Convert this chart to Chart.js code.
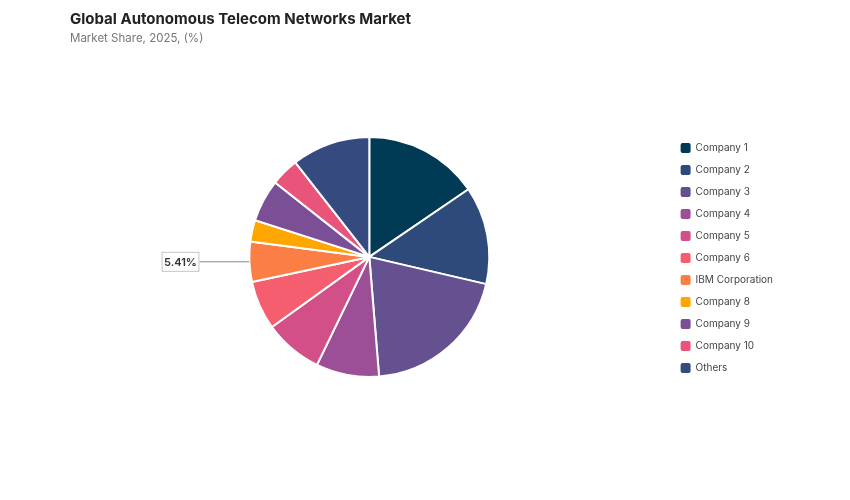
<!DOCTYPE html>
<html>
<head>
<meta charset="utf-8">
<script src="https://cdn.jsdelivr.net/npm/chart.js@4.4.0/dist/chart.umd.min.js"></script>
<style>
  html, body { margin: 0; padding: 0; background: #ffffff; }
  #wrap { width: 850px; height: 500px; position: relative; }
</style>
</head>
<body>
<div id="wrap"><canvas id="c" width="850" height="500"></canvas></div>
<script>
const categories = ["Company 1", "Company 2", "Company 3", "Company 4", "Company 5", "Company 6", "IBM Corporation", "Company 8", "Company 9", "Company 10", "Others"];
const shares = [15.5, 13.2, 20.1, 8.5, 7.9, 6.6, 5.41, 2.9, 5.7, 3.8, 10.6];
const colors = ["#003a55", "#2e4a7a", "#65518f", "#9c4f96", "#d24f88", "#f45e6e", "#fb7f45", "#ffa600", "#7a4f96", "#e8547a", "#354a7e"];
const labelledIndex = 6;
const titleText = "Global Autonomous Telecom Networks Market";
const subtitleText = "Market Share, 2025, (%)";

const calloutPlugin = {
  id: 'callout',
  afterDatasetsDraw(chart) {
    const meta = chart.getDatasetMeta(0);
    const arc = meta.data[labelledIndex];
    if (!arc) return;
    const p = arc.getProps(['x', 'y', 'startAngle', 'endAngle', 'outerRadius'], true);
    const mid = (p.startAngle + p.endAngle) / 2;
    const ex = p.x + Math.cos(mid) * p.outerRadius;
    const ey = p.y + Math.sin(mid) * p.outerRadius;
    const lineLen = 50;
    const ctx = chart.ctx;
    ctx.save();
    ctx.strokeStyle = '#8a8a8a';
    ctx.lineWidth = 1;
    ctx.beginPath();
    ctx.moveTo(ex, ey);
    ctx.lineTo(ex - lineLen, ey);
    ctx.stroke();
    const text = shares[labelledIndex].toFixed(2) + '%';
    ctx.font = '600 11px Inter, "Open Sans", sans-serif';
    const tw = ctx.measureText(text).width;
    const bw = tw + 5, bh = 20;
    const bx = ex - lineLen - bw, by = ey - bh / 2;
    ctx.fillStyle = '#ffffff';
    ctx.fillRect(bx, by, bw, bh);
    ctx.strokeStyle = '#c4c4c4';
    ctx.strokeRect(bx + 0.5, by + 0.5, bw - 1, bh - 1);
    ctx.fillStyle = '#333333';
    ctx.textAlign = 'center';
    ctx.textBaseline = 'middle';
    ctx.fillText(text, bx + bw / 2, ey + 0.5);
    ctx.restore();
  }
};

new Chart(document.getElementById('c'), {
  type: 'pie',
  data: {
    labels: categories,
    datasets: [{
      data: shares,
      backgroundColor: colors,
      borderColor: '#ffffff',
      borderWidth: 2,
      radius: 120
    }]
  },
  options: {
    responsive: false,
    animation: false,
    layout: { padding: { left: 70, right: 67, top: 0, bottom: 32 } },
    plugins: {
      tooltip: { enabled: false },
      title: {
        display: true,
        text: titleText,
        align: 'start',
        color: '#222222',
        font: { family: 'Inter, "Open Sans", sans-serif', size: 15, weight: 'bold' },
        padding: { top: 10, bottom: 4 }
      },
      subtitle: {
        display: true,
        text: subtitleText,
        align: 'start',
        color: '#777777',
        font: { family: 'Inter, "Open Sans", sans-serif', size: 11.5, weight: 'normal' },
        padding: { top: 0, bottom: 0 }
      },
      legend: {
        position: 'right',
        align: 'center',
        title: {
          display: true,
          text: ' ',
          font: { size: 1 },
          padding: { top: 23.4, bottom: 23.4 }
        },
        labels: {
          boxWidth: 10,
          boxHeight: 10,
          padding: 12,
          color: '#444444',
          font: { family: 'Inter, "Open Sans", sans-serif', size: 10 },
          generateLabels(chart) {
            const ds = chart.data.datasets[0];
            return chart.data.labels.map((l, i) => ({
              text: l,
              fillStyle: ds.backgroundColor[i],
              strokeStyle: ds.backgroundColor[i],
              lineWidth: 0,
              borderRadius: 2,
              hidden: false,
              index: i,
              fontColor: '#444444'
            }));
          }
        }
      }
    }
  },
  plugins: [calloutPlugin]
});
</script>
</body>
</html>
